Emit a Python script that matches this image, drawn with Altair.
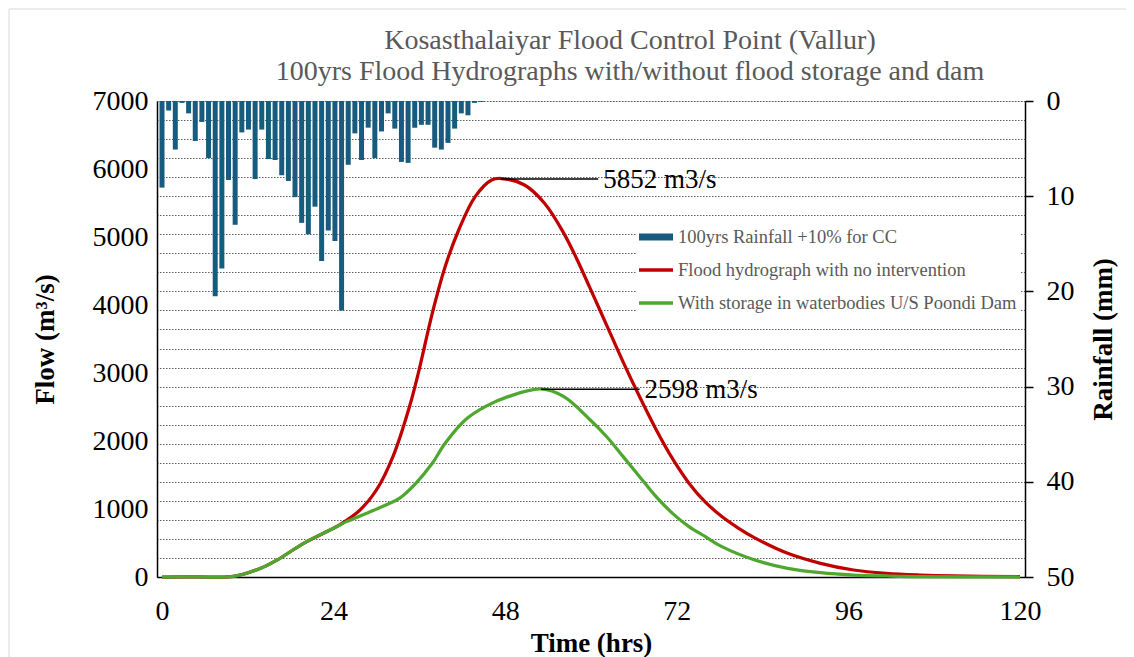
import altair as alt
import pandas as pd

# ---------------- data ----------------
series_names = [
    "100yrs Rainfall +10% for CC",
    "Flood hydrograph with no intervention",
    "With storage in waterbodies U/S Poondi Dam",
]
series_colors = ["#175C7E", "#C00000", "#4EA72E"]

# rainfall bars (mm), one per category step of the secondary axis
rain_mm = [9.1, 1.0, 5.1, 0.2, 1.3, 4.2, 2.2, 6.0, 20.5, 17.6,
           8.3, 13.0, 3.3, 3.0, 8.2, 3.0, 6.1, 6.2, 7.8, 8.4,
           10.1, 12.8, 14.0, 11.1, 16.8, 13.6, 14.7, 22.0, 6.7, 3.4,
           6.2, 2.8, 6.0, 3.2, 1.3, 2.9, 6.4, 6.5, 2.8, 2.5,
           2.5, 4.9, 5.1, 4.4, 2.9, 1.3, 1.5, 0.2, 0.1]
rain_step_hr = 120 / 129
rain_time = [i * rain_step_hr for i in range(len(rain_mm))]

red_t = [0, 5, 10, 13.8, 16.1, 19.8, 23.0, 24.9, 27.7, 30.0, 32.3, 34.6, 35.9,
         37.8, 39.6, 41.5, 43.8, 46.1, 47.5, 50.7, 53.5, 56.2, 58.0, 59.9, 62.2,
         64.5, 66.8, 69.1, 71.4, 73.7, 76.0, 78.3, 80.6, 82.9, 87.5, 92.1, 96.7,
         101.3, 106.0, 110.6, 120]
red_q = [0, 2, 8, 128, 250, 495, 666, 770, 985, 1280, 1770, 2500, 3020,
         3878, 4563, 5103, 5593, 5838, 5860, 5765, 5496, 5054, 4680, 4240, 3700,
         3160, 2650, 2170, 1740, 1380, 1100, 890, 720, 575, 348, 201, 103,
         54, 29, 15, 4]

green_t = [0, 5, 10, 13.8, 16.1, 19.8, 23.0, 24.9, 25.8, 28.6, 31.3, 33.2,
           35.5, 37.8, 39.6, 42.4, 45.2, 48.4, 53.0, 56.2, 59.9, 62.2, 64.5,
           66.8, 69.1, 71.4, 73.7, 76.0, 78.3, 82.9, 87.5, 92.1, 96.7, 101.3,
           106.0, 120]
green_q = [0, 2, 8, 128, 250, 495, 666, 765, 814, 936, 1059, 1157,
           1378, 1672, 1966, 2309, 2505, 2652, 2765, 2652, 2309, 2063, 1770,
           1475, 1181, 936, 740, 593, 446, 250, 128, 64, 29, 15,
           5, 0]

ann_t0 = [47.4, 53.0]
ann_t1 = [61.0, 66.8]
ann_q = [5852, 2760]
ann_label = ["5852 m3/s", "2598 m3/s"]

x_ticks = [0, 24, 48, 72, 96, 120]
flow_ticks = [0, 1000, 2000, 3000, 4000, 5000, 6000, 7000]
rain_grid = list(range(0, 51, 2))

title_lines = ["Kosasthalaiyar Flood Control Point (Vallur)",
               "100yrs Flood Hydrographs with/without flood storage and dam"]

# ---------------- chart ----------------
W, H = 868, 476
SERIF = "Liberation Serif"

x_scale = alt.Scale(domain=[0, 120], nice=False, zero=False)
x_axis = alt.Axis(values=x_ticks, title="Time (hrs)", grid=False, ticks=False, tickSize=0,
                  labelPadding=20, labelFlush=False, labelFont=SERIF, labelFontSize=28,
                  labelColor="black", domainColor="black", domainWidth=1.5,
                  titleFont=SERIF, titleFontSize=27, titleFontWeight="bold",
                  titleColor="black", titleY=66, titleBaseline="middle")

flow_scale = alt.Scale(domain=[0, 7000], nice=False)
flow_axis = alt.Axis(values=flow_ticks, title="Flow (m³/s)", orient="left", format="d",
                     grid=False, ticks=False, tickSize=0, labelPadding=9,
                     labelFont=SERIF, labelFontSize=28, labelColor="black",
                     domainColor="black", domainWidth=1.5,
                     titleFont=SERIF, titleFontSize=27, titleFontWeight="bold",
                     titleColor="black", titleX=-112, titleY=H / 2, titleAngle=270,
                     titleAlign="center", titleBaseline="middle")

rain_scale = alt.Scale(domain=[0, 50], reverse=True, nice=False)
rain_axis = alt.Axis(values=rain_grid, title="Rainfall (mm)", orient="right",
                     grid=True, gridDash=[1.5, 1.5], gridColor="#5f5f5f", gridWidth=1,
                     labelExpr="datum.value % 10 === 0 ? datum.label : ''",
                     labelOverlap=False, labelFlush=False,
                     tickSize=8, tickColor="black", tickWidth=1.5,
                     tickOpacity={"condition": {"test": "datum.value % 10 === 0", "value": 1}, "value": 0},
                     labelPadding=13, labelFont=SERIF, labelFontSize=28, labelColor="black",
                     domainColor="black", domainWidth=1.5,
                     titleFont=SERIF, titleFontSize=27, titleFontWeight="bold",
                     titleColor="black", titleX=78, titleY=H / 2, titleAngle=270,
                     titleAlign="center", titleBaseline="middle")

rain_df = pd.DataFrame({"t": rain_time, "mm": rain_mm})
bars = alt.Chart(rain_df).mark_bar(color=series_colors[0], width=5, clip=True,
                                    orient="vertical").encode(
    x=alt.X("t:Q", scale=x_scale, axis=x_axis),
    y=alt.Y("mm:Q", scale=rain_scale, axis=rain_axis),
)
rain_layer = alt.layer(bars)

red_df = pd.DataFrame({"t": red_t, "q": red_q})
green_df = pd.DataFrame({"t": green_t, "q": green_q})

red_line = alt.Chart(red_df).mark_line(color=series_colors[1], strokeWidth=3.25,
                                       interpolate="catmull-rom").encode(
    x=alt.X("t:Q", scale=x_scale, axis=x_axis),
    y=alt.Y("q:Q", scale=flow_scale, axis=flow_axis),
)
green_line = alt.Chart(green_df).mark_line(color=series_colors[2], strokeWidth=3.25,
                                           interpolate="catmull-rom").encode(
    x=alt.X("t:Q", scale=x_scale, axis=x_axis),
    y=alt.Y("q:Q", scale=flow_scale, axis=flow_axis),
)

ann_df = pd.DataFrame({"t0": ann_t0, "t1": ann_t1, "q": ann_q, "label": ann_label})
ann_rules = alt.Chart(ann_df).mark_rule(color="black", strokeWidth=1.5).encode(
    x=alt.X("t0:Q", scale=x_scale, axis=x_axis), x2="t1:Q",
    y=alt.Y("q:Q", scale=flow_scale, axis=flow_axis),
)
ann_text = alt.Chart(ann_df).mark_text(align="left", baseline="middle", dx=5, dy=1,
                                       font=SERIF, fontSize=27, color="black").encode(
    x=alt.X("t1:Q", scale=x_scale, axis=x_axis),
    y=alt.Y("q:Q", scale=flow_scale, axis=flow_axis),
    text="label:N",
)

legend_shapes = ["M-1,-0.2H1V0.2H-1Z", "M-1,-0.11H1V0.11H-1Z", "M-1,-0.11H1V0.11H-1Z"]
legend_kw = dict(orient="none", legendX=479, legendY=116, fillColor="white", padding=3,
                 labelFont=SERIF, labelFontSize=18.5, labelColor="#595959", labelLimit=0,
                 symbolSize=1156, symbolStrokeWidth=0, symbolOpacity=1, rowPadding=6,
                 labelOffset=5, title=None)
legend_df = pd.DataFrame({"series": series_names})
legend_layer = alt.Chart(legend_df).transform_filter("false").mark_point(
    filled=True, size=1156, opacity=1).encode(
    color=alt.Color("series:N", scale=alt.Scale(domain=series_names, range=series_colors),
                    legend=alt.Legend(**legend_kw)),
    shape=alt.Shape("series:N", scale=alt.Scale(domain=series_names, range=legend_shapes),
                    legend=alt.Legend(**legend_kw)),
)

# chart title, two centred lines above the plot
title_df = pd.DataFrame({"line": title_lines, "row": [0, 1]})
title1 = alt.Chart(title_df).transform_filter("datum.row == 0").mark_text(
    font=SERIF, fontSize=28, color="#595959", align="center", baseline="alphabetic").encode(
    text="line:N", x=alt.value(W / 2 + 39), y=alt.value(-52))
title2 = alt.Chart(title_df).transform_filter("datum.row == 1").mark_text(
    font=SERIF, fontSize=28, color="#595959", align="center", baseline="alphabetic").encode(
    text="line:N", x=alt.value(W / 2 + 39), y=alt.value(-21))

# light chart-area border
frame_df = pd.DataFrame({"k": [0]})
frame = alt.Chart(frame_df).mark_rect(fillOpacity=0, stroke="#d9d9d9", strokeWidth=1).encode(
    x=alt.value(-148), x2=alt.value(W + 300), y=alt.value(-92), y2=alt.value(H + 300)
)

flow_layer = alt.layer(red_line, green_line, ann_rules, ann_text, legend_layer,
                       title1, title2, frame)

chart = alt.layer(rain_layer, flow_layer).resolve_scale(y="independent").properties(
    width=W, height=H,
    autosize=alt.AutoSizeParams(type="none"),
    padding={"left": 149, "top": 93, "right": 101, "bottom": 100},
).configure_view(stroke="#404040", strokeWidth=1.5).configure(background="white")

chart.save("out.html", embed_options={"renderer": "svg", "actions": False})
